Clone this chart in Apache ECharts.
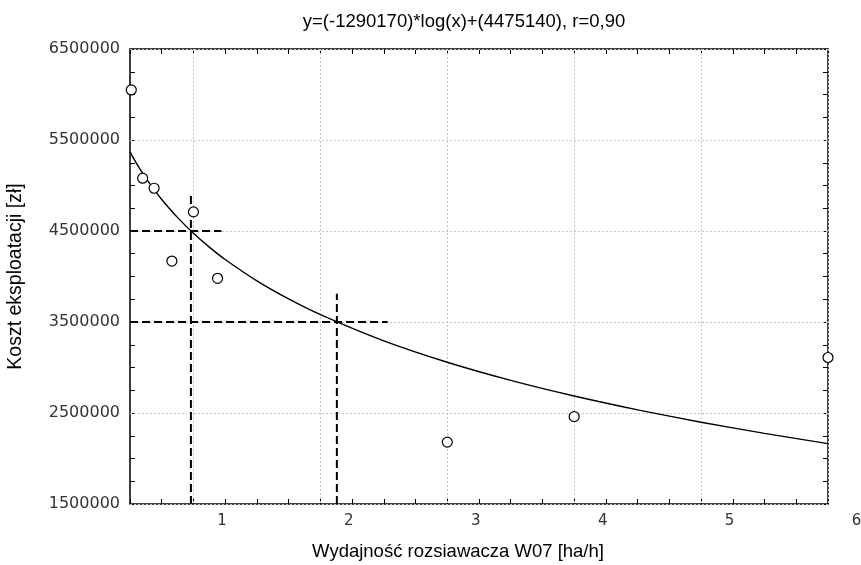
<!DOCTYPE html>
<html>
<head>
<meta charset="utf-8">
<script src="https://cdn.jsdelivr.net/npm/echarts@6/dist/echarts.min.js"></script>
<style>html,body{margin:0;padding:0;background:#fff;}#c{width:861px;height:565px;}</style>
</head>
<body>
<div id="c"></div>
<script>
// Observed points (x = wydajność [ha/h], y = koszt [zł])
const pointX = [0.51, 0.60, 0.69, 1.00, 0.83, 1.19, 3.00, 4.00, 6.00];
const pointY = [6050000, 5080000, 4970000, 4710000, 4170000, 3980000, 2180000, 2460000, 3110000];
// Fitted curve
const curveX = [0.5, 0.55, 0.6, 0.65, 0.7, 0.75, 0.8, 0.875, 1.0, 1.125, 1.25, 1.5, 1.75, 2.0, 2.5, 3.0, 3.5, 4.0, 4.5, 5.0, 5.5, 6.0];
const curveY = [5370000, 5246000, 5134000, 5031000, 4935000, 4846000, 4763000, 4647000, 4475000, 4323000, 4187000, 3952000, 3753000, 3581000, 3293000, 3058000, 2859000, 2687000, 2535000, 2399000, 2276000, 2163000];
// Reference dashed guides
const guide1X = 0.98, guide1Y = 4500000, guide1Top = 4885000, guide1Right = 1.22;
const guide2X = 2.13, guide2Y = 3500000, guide2Top = 3810000, guide2Right = 2.53;
// Axis ticks / labels
const xLabels = [1, 2, 3, 4, 5, 6];
const yLabels = [1500000, 2500000, 3500000, 4500000, 5500000, 6500000];
const xMin = 0.5, xMax = 6, yMin = 1500000, yMax = 6500000;

const titleText = 'y=(-1290170)*log(x)+(4475140), r=0,90';
const xName = 'Wydajność rozsiawacza W07 [ha/h]';
const yName = 'Koszt eksploatacji [zł]';

const chart = echarts.init(document.getElementById('c'), null, {renderer: 'canvas'});

const frameLine = {show: true, onZero: false, lineStyle: {color: '#000', width: 1.5}};
const tickStyle = {show: true, inside: true, length: 5, lineStyle: {color: '#000', width: 1}};
const gridLine = {show: true, lineStyle: {color: '#c4c4c4', type: [2, 2], width: 1}};

const xTickAxis = pos => ({type: 'value', position: pos, min: xMin, max: xMax, interval: 0.25,
  axisLine: frameLine, axisTick: tickStyle, axisLabel: {show: false}, splitLine: {show: false}});
const yTickAxis = pos => ({type: 'value', position: pos, min: yMin, max: yMax, interval: 250000,
  axisLine: frameLine, axisTick: tickStyle, axisLabel: {show: false}, splitLine: {show: false}});

const option = {
  backgroundColor: '#fff',
  animation: false,
  title: {text: titleText, left: 459, top: 7, textAlign: 'center',
    textStyle: {fontFamily: 'Liberation Sans', fontSize: 18.5, fontWeight: 'normal', color: '#000'}},
  grid: {left: 130, right: 33, top: 49, bottom: 61, containLabel: false, outerBoundsMode: 'none'},
  xAxis: [
    {type: 'value', position: 'bottom', min: xMin, max: xMax, z: 1,
      axisLine: {show: false}, axisTick: {show: false, customValues: xLabels},
      splitLine: gridLine,
      axisLabel: {customValues: xLabels, margin: 10, formatter: v => '{a|' + v + '}',
        rich: {a: {fontFamily: 'DejaVu Sans', fontSize: 15, color: '#333', padding: [0, 0, 0, 57]}}},
      name: xName, nameLocation: 'middle', nameGap: 38,
      nameTextStyle: {fontFamily: 'Liberation Sans', fontSize: 18.5, color: '#000', padding: [0, 42, 0, 0]}},
    xTickAxis('bottom'),
    xTickAxis('top')
  ],
  yAxis: [
    {type: 'value', position: 'left', min: 0, max: 5, interval: 1, z: 1,
      axisLine: {show: false}, axisTick: {show: false}, splitLine: gridLine,
      axisLabel: {margin: 10, fontFamily: 'DejaVu Sans', fontSize: 16, color: '#333',
        formatter: v => String(yLabels[Math.round(v)])},
      name: yName, nameLocation: 'middle', nameGap: 104,
      nameTextStyle: {fontFamily: 'Liberation Sans', fontSize: 19.5, color: '#000'}},
    yTickAxis('left'),
    yTickAxis('right')
  ],
  series: [
    {type: 'line', xAxisIndex: 1, yAxisIndex: 1, data: curveX.map((x, i) => [x, curveY[i]]),
      smooth: 0.25, showSymbol: false, lineStyle: {color: '#000', width: 1.4}, z: 3},
    {type: 'line', xAxisIndex: 1, yAxisIndex: 1, data: [[xMin, guide1Y], [guide1Right, guide1Y]],
      showSymbol: false, lineStyle: {color: '#000', width: 2, type: [8, 4]}, z: 4},
    {type: 'line', xAxisIndex: 1, yAxisIndex: 1, data: [[guide1X, yMin], [guide1X, guide1Top]],
      showSymbol: false, lineStyle: {color: '#000', width: 2, type: [8, 4]}, z: 4},
    {type: 'line', xAxisIndex: 1, yAxisIndex: 1, data: [[xMin, guide2Y], [guide2Right, guide2Y]],
      showSymbol: false, lineStyle: {color: '#000', width: 2, type: [8, 4]}, z: 4},
    {type: 'line', xAxisIndex: 1, yAxisIndex: 1, data: [[guide2X, yMin], [guide2X, guide2Top]],
      showSymbol: false, lineStyle: {color: '#000', width: 2, type: [8, 4]}, z: 4},
    {type: 'scatter', xAxisIndex: 1, yAxisIndex: 1, data: pointX.map((x, i) => [x, pointY[i]]),
      symbol: 'circle', symbolSize: 10, clip: false,
      itemStyle: {color: '#fff', borderColor: '#000', borderWidth: 1.2, opacity: 1}, z: 5}
  ]
};
chart.setOption(option);
</script>
</body>
</html>
